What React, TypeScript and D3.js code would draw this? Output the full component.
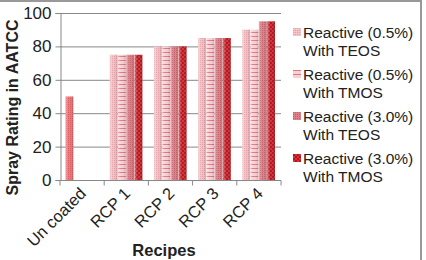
import * as React from "react";
import * as d3 from "d3";

const categories = ["Un coated", "RCP 1", "RCP 2", "RCP 3", "RCP 4"];
const seriesNames = [
  ["Reactive (0.5%)", "With TEOS"],
  ["Reactive (0.5%)", "With TMOS"],
  ["Reactive (3.0%)", "With TEOS"],
  ["Reactive (3.0%)", "With TMOS"],
];
const teos05 = [50, 75, 80, 85, 90];
const tmos05 = [null, 75, 80, 85, 90];
const teos30 = [null, 75, 80, 85, 95];
const tmos30 = [null, 75, 80, 85, 95];
const yTicks = [0, 20, 40, 60, 80, 100];

const allSeries = [teos05, tmos05, teos30, tmos30];
const patternIds = ["p1", "p2", "p3", "p4"];
const fontFamily = "'Liberation Sans', Arial, sans-serif";

function drawChart(svgRef) {
  const svg = d3.select(svgRef.current);
  svg.selectAll("*").remove();

  const left = 60, right = 281, top = 13, bottom = 180;

  const x = d3.scaleBand().domain(categories).range([left, right]);
  const x1 = d3
    .scaleBand()
    .domain(d3.range(allSeries.length).map(String))
    .range([x.bandwidth() * 0.125, x.bandwidth() * 0.875]);
  const y = d3.scaleLinear().domain([0, 100]).range([bottom, top]);

  // patterns
  const defs = svg.append("defs");
  const p1 = defs.append("pattern").attr("id", "p1").attr("patternUnits", "userSpaceOnUse").attr("width", 2).attr("height", 2);
  p1.append("rect").attr("width", 2).attr("height", 2).attr("fill", "#f5c2c6");
  p1.append("rect").attr("width", 1).attr("height", 1).attr("fill", "#e8a0a8");

  const p2 = defs.append("pattern").attr("id", "p2").attr("patternUnits", "userSpaceOnUse").attr("width", 4).attr("height", 4);
  p2.append("rect").attr("width", 4).attr("height", 4).attr("fill", "#f8d0d4");
  p2.append("rect").attr("width", 4).attr("height", 1).attr("fill", "#e07884");

  const p3 = defs.append("pattern").attr("id", "p3").attr("patternUnits", "userSpaceOnUse").attr("width", 2).attr("height", 2);
  p3.append("rect").attr("width", 2).attr("height", 2).attr("fill", "#dc8088");
  p3.append("rect").attr("width", 1).attr("height", 1).attr("fill", "#c8606a");

  const p4 = defs.append("pattern").attr("id", "p4").attr("patternUnits", "userSpaceOnUse").attr("width", 4).attr("height", 4);
  p4.append("rect").attr("width", 4).attr("height", 4).attr("fill", "#d83038");
  p4.append("rect").attr("width", 2).attr("height", 2).attr("fill", "#b01820");
  p4.append("rect").attr("x", 2).attr("y", 2).attr("width", 2).attr("height", 2).attr("fill", "#b01820");

  const p0 = defs.append("pattern").attr("id", "p0").attr("patternUnits", "userSpaceOnUse").attr("width", 2).attr("height", 2);
  p0.append("rect").attr("width", 2).attr("height", 2).attr("fill", "#f07878");
  p0.append("rect").attr("width", 1).attr("height", 1).attr("fill", "#dc5a62");

  const shade = defs.append("linearGradient").attr("id", "shade");
  shade.append("stop").attr("offset", "0%").attr("stop-color", "#fff").attr("stop-opacity", 0.35);
  shade.append("stop").attr("offset", "40%").attr("stop-color", "#fff").attr("stop-opacity", 0);
  shade.append("stop").attr("offset", "100%").attr("stop-color", "#000").attr("stop-opacity", 0.15);

  // frame
  svg.append("rect").attr("x", -5).attr("y", 1).attr("width", 426).attr("height", 270)
    .attr("fill", "none").attr("stroke", "#999").attr("stroke-width", 2);

  // gridlines
  svg.append("g").selectAll("line").data(yTicks.filter(d => d > 0)).enter().append("line")
    .attr("x1", left).attr("x2", right)
    .attr("y1", d => y(d) + 0.5).attr("y2", d => y(d) + 0.5)
    .attr("stroke", "#888").attr("stroke-width", 1);

  // bars
  allSeries.forEach((s, i) => {
    const data = categories.map((c, j) => ({ c, v: s[j], j })).filter(d => d.v != null);
    const g = svg.append("g");
    g.selectAll("rect.bar").data(data).enter().append("rect")
      .attr("class", "bar")
      .attr("x", d => x(d.c) + x1(String(i)))
      .attr("width", x1.bandwidth() - 0.5)
      .attr("y", d => y(d.v))
      .attr("height", d => y(0) - y(d.v))
      .attr("fill", d => (d.j === 0 ? "url(#p0)" : `url(#${patternIds[i]})`));
    g.selectAll("rect.shade").data(data).enter().append("rect")
      .attr("class", "shade")
      .attr("x", d => x(d.c) + x1(String(i)))
      .attr("width", x1.bandwidth() - 0.5)
      .attr("y", d => y(d.v))
      .attr("height", d => y(0) - y(d.v))
      .attr("fill", "url(#shade)");
  });

  // y axis
  const yAxis = svg.append("g")
    .attr("transform", `translate(${left + 0.5},0)`)
    .call(d3.axisLeft(y).tickValues(yTicks).tickSize(5).tickPadding(4));
  yAxis.select(".domain").attr("stroke", "#888");
  yAxis.selectAll(".tick line").attr("stroke", "#888");
  yAxis.selectAll("text").attr("font-size", 17).attr("font-family", fontFamily).attr("fill", "#222");

  // x axis
  const xAxis = svg.append("g").attr("transform", `translate(0,${bottom + 0.5})`);
  xAxis.append("line").attr("x1", left).attr("x2", right).attr("stroke", "#888");
  xAxis.selectAll("line.tk").data(d3.range(categories.length + 1)).enter().append("line")
    .attr("class", "tk")
    .attr("x1", i => left + i * x.step()).attr("x2", i => left + i * x.step())
    .attr("y1", 0).attr("y2", 5).attr("stroke", "#888");
  xAxis.selectAll("text").data(categories).enter().append("text")
    .attr("transform", d => `translate(${x(d) + x.bandwidth() / 2 + 5},${14}) rotate(-45)`)
    .attr("text-anchor", "end")
    .attr("font-size", 16.5).attr("font-family", fontFamily).attr("fill", "#222")
    .text(d => d);

  // titles
  svg.append("text")
    .attr("transform", `translate(18,${(top + bottom) / 2 + 11}) rotate(-90)`)
    .attr("text-anchor", "middle")
    .attr("font-size", 16).attr("font-weight", "bold").attr("font-family", fontFamily).attr("fill", "#222")
    .text("Spray Rating in AATCC");
  svg.append("text")
    .attr("x", 164).attr("y", 256)
    .attr("text-anchor", "middle")
    .attr("font-size", 16.5).attr("font-weight", "bold").attr("font-family", fontFamily).attr("fill", "#222")
    .text("Recipes");

  // legend
  const legend = svg.append("g").attr("transform", "translate(293,28)");
  const items = legend.selectAll("g").data(seriesNames).enter().append("g")
    .attr("transform", (d, i) => `translate(0,${i * 42})`);
  items.append("rect").attr("width", 8).attr("height", 8)
    .attr("fill", (d, i) => `url(#${patternIds[i]})`);
  items.append("text").attr("x", 10).attr("y", 9.5)
    .attr("font-size", 15.5).attr("font-family", fontFamily).attr("fill", "#222")
    .text(d => d[0]);
  items.append("text").attr("x", 10).attr("y", 27.5)
    .attr("font-size", 15.5).attr("font-family", fontFamily).attr("fill", "#222")
    .text(d => d[1]);
}

const App = () => {
  const svgRef = React.useRef(null);

  React.useEffect(() => {
    drawChart(svgRef);
  }, [svgRef]);

  return (
    <div id="chart">
      <svg ref={svgRef} width={426} height={260}
        style={{ position: "absolute", left: 0, top: 0, background: "#fff" }} />
    </div>
  );
};

export default App;
